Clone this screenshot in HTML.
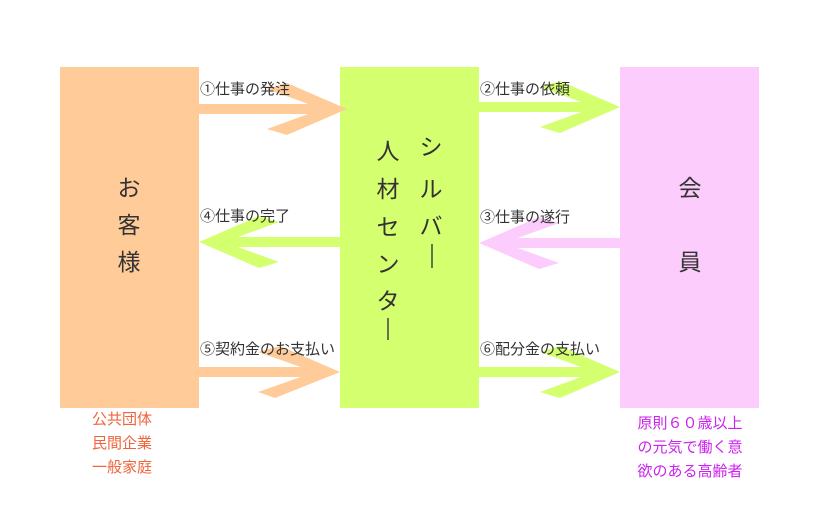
<!DOCTYPE html>
<html><head><meta charset="utf-8"><style>
body{margin:0;background:#fff;width:825px;height:500px;overflow:hidden;font-family:"Liberation Sans","Noto Sans CJK JP",sans-serif}
svg text{font-family:"Liberation Sans","Noto Sans CJK JP",sans-serif}
</style></head><body>
<svg width="825" height="500" xmlns="http://www.w3.org/2000/svg">
<rect x="60" y="67" width="139" height="341" fill="#ffcc99"/>
<rect x="340" y="67" width="139" height="341" fill="#d4ff6e"/>
<rect x="620" y="67" width="139" height="341" fill="#fccdfc"/>
<g fill="#ffcc99">
<rect x="199" y="104" width="125" height="10"/>
<polygon points="347,109 287,83 267,89 322,109 267,129 287,135"/>
</g>
<g fill="#d4ff6e">
<rect x="479" y="102" width="120" height="10"/>
<polygon points="620,107 560,81 540,87 595,107 540,127 560,133"/>
</g>
<g fill="#d4ff6e">
<rect x="222" y="237" width="118" height="10"/>
<polygon points="199,242 259,216 279,222 224,242 279,262 259,268"/>
</g>
<g fill="#fccdfc">
<rect x="502" y="238" width="118" height="10"/>
<polygon points="479,243 539,217 559,223 504,243 559,263 539,269"/>
</g>
<g fill="#ffcc99">
<rect x="199" y="367" width="118" height="10"/>
<polygon points="340,372 280,346 258,352 315,372 258,392 275,398"/>
</g>
<g fill="#d4ff6e">
<rect x="479" y="367" width="118" height="10"/>
<polygon points="620,372 560,346 540,352 595,372 540,392 560,398"/>
</g>
<g font-size="15" fill="#333">
<text x="200" y="94">①仕事の発注</text>
<text x="480" y="94">②仕事の依頼</text>
<text x="200" y="221">④仕事の完了</text>
<text x="480" y="222">③仕事の遂行</text>
<text x="200" y="354">⑤契約金のお支払い</text>
<text x="480" y="354">⑥配分金の支払い</text>
</g>
<g font-size="23" fill="#333" text-anchor="middle">
<text x="129" y="196">お</text>
<text x="129" y="233">客</text>
<text x="129" y="270">様</text>
<text x="690" y="196">会</text>
<text x="690" y="270">員</text>
<text x="431" y="155">シ</text>
<text x="431" y="197">ル</text>
<text x="431" y="234">バ</text>
<text x="388" y="159">人</text>
<text x="388" y="197">材</text>
<text x="388" y="235">セ</text>
<text x="388" y="272">ン</text>
<text x="388" y="309">タ</text>
</g>
<g stroke="#444" stroke-width="1.5">
<line x1="432" y1="244" x2="432" y2="268"/>
<line x1="388" y1="318" x2="388" y2="340"/>
</g>
<g font-size="15" fill="#f0643c" text-anchor="middle">
<text x="122" y="424">公共団体</text>
<text x="122" y="448">民間企業</text>
<text x="122" y="472">一般家庭</text>
</g>
<g font-size="15" fill="#cc22ee" text-anchor="middle">
<text x="690" y="428">原則６０歳以上</text>
<text x="690" y="452">の元気で働く意</text>
<text x="690" y="476">欲のある高齢者</text>
</g>
</svg>
</body></html>
